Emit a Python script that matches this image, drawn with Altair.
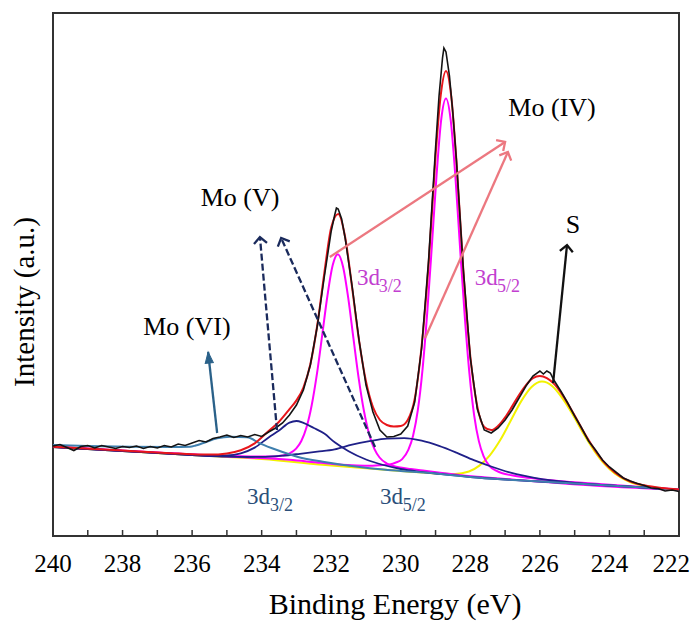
import altair as alt
import pandas as pd

FONT = "Liberation Serif, Times New Roman, DejaVu Serif, serif"
W, H = 626, 523

# ---------------- data: (binding energy eV, intensity a.u.) ----------------
raw = [(240.0, 90), (239.8, 91.5), (239.6, 88.5), (239.4, 85.5), (239.2, 89.5), (239.0, 90.5),
       (238.8, 88), (238.6, 90.5), (238.4, 89), (238.2, 87.5), (238.0, 89.5), (237.8, 88.5),
       (237.6, 90), (237.4, 87.5), (237.2, 89.5), (237.0, 88), (236.8, 90.5), (236.6, 89),
       (236.4, 92), (236.2, 90.5), (236.0, 93), (235.8, 95.5), (235.6, 94), (235.4, 97.5),
       (235.2, 99), (235.0, 101), (234.8, 98.5), (234.6, 100.5), (234.4, 99), (234.2, 101.5),
       (234.0, 99.5), (233.8, 104), (233.6, 108), (233.4, 113), (233.2, 121), (233.0, 131),
       (232.8, 146), (232.6, 171), (232.4, 210), (232.2, 259), (232.0, 305), (231.9, 321),
       (231.85, 328), (231.8, 327), (231.7, 317), (231.6, 298), (231.4, 250), (231.2, 196),
       (231.0, 151), (230.8, 124), (230.6, 106), (230.4, 99), (230.2, 99.5), (230.0, 102),
       (229.8, 110), (229.6, 134), (229.4, 188), (229.2, 276), (229.0, 388), (228.9, 440),
       (228.8, 478), (228.76, 488), (228.7, 484), (228.6, 460), (228.5, 422), (228.4, 376),
       (228.2, 266), (228.0, 178), (227.8, 127), (227.6, 106), (227.4, 103), (227.2, 108),
       (227.0, 116), (226.8, 126), (226.6, 138), (226.4, 150), (226.2, 160), (226.0, 165),
       (225.9, 162), (225.8, 165), (225.7, 163), (225.6, 156), (225.4, 145), (225.2, 133),
       (225.0, 120), (224.8, 108), (224.6, 95), (224.4, 86), (224.2, 76), (224.0, 69),
       (223.8, 63.5), (223.6, 58), (223.4, 55), (223.2, 52.5), (223.0, 50.5), (222.8, 48),
       (222.6, 47.5), (222.4, 45), (222.2, 46), (222.0, 44.5)]

envelope = [(240, 89.3), (238, 85.4), (237, 83.5), (236.5, 82.6), (236, 81.8), (235.5, 81.4),
            (235, 82.6), (234.6, 85.7), (234.2, 92.6), (233.8, 105), (233.5, 114.3), (233.2, 126.8),
            (233.0, 135.6), (232.8, 148.5), (232.6, 171.8), (232.4, 211), (232.2, 262.7),
            (232.0, 308.5), (231.8, 322), (231.6, 299), (231.4, 248.6), (231.2, 195.4),
            (231.0, 154.6), (230.8, 129), (230.6, 116), (230.4, 111), (230.2, 109.5), (230.0, 110),
            (229.8, 116), (229.6, 137), (229.4, 190), (229.2, 272), (229.0, 380), (228.85, 441),
            (228.7, 465), (228.55, 440), (228.4, 375), (228.2, 265), (228.0, 179.5), (227.8, 129.6),
            (227.6, 109.1), (227.4, 105.9), (227.2, 110.2), (227.0, 118.7), (226.8, 129.6),
            (226.6, 141), (226.4, 150.9), (226.2, 157.8), (226.0, 160.1), (225.8, 157.9),
            (225.6, 152.4), (225.4, 143.6), (225.2, 132.6), (225.0, 120.5), (224.8, 107.8),
            (224.6, 95.9), (224.4, 85), (224.2, 75.7), (224.0, 68.1), (223.7, 59.9), (223.4, 54.5),
            (223.0, 50.7), (222.5, 48), (222.0, 46.5)]

mo6 = [(240.0, 91), (239.0, 90), (237.8, 89.3), (236.6, 89), (236.06, 89.3), (235.9, 90.5),
       (235.7, 92.7), (235.28, 97.7), (234.91, 99.3), (234.42, 98.7), (234.05, 92.7), (233.56, 86),
       (232.98, 79.3), (232.24, 74.3), (230.89, 67.7), (230.0, 65), (229.0, 62.5), (228.0, 59),
       (227.0, 56.5), (226.0, 54.5), (225.0, 52.5), (224.0, 50.5), (223.0, 48.5), (222.0, 46)]

mo5_32 = [(240, 89), (238, 85), (236, 81), (235.5, 80.2), (235.0, 80.5), (234.6, 82.7),
          (234.2, 88.4), (233.8, 98.6), (233.5, 105.5), (233.2, 113.4), (233.0, 115), (232.8, 113.1),
          (232.5, 108), (232.2, 102.4), (231.9, 93.7), (231.5, 84.8), (231.0, 76.5), (230.5, 71),
          (230.0, 67), (229.5, 64.4), (229.0, 62.5), (228, 59), (227, 56.5), (226, 54.5),
          (225, 52.5), (224, 50.5), (223, 48.5), (222, 46)]

mo5_52 = [(240, 89), (238, 85), (236, 81), (235.0, 79.3), (234.4, 79.0), (233.9, 79.2),
          (233.4, 80.3), (232.9, 82.2), (232.4, 84.3), (231.9, 86.7), (231.4, 91.4), (230.9, 94.8),
          (230.4, 97.3), (229.9, 97.8), (229.4, 95.3), (228.9, 90.2), (228.4, 83.4), (227.9, 75.8),
          (227.4, 69.5), (226.9, 63.9), (226.4, 59.8), (225.9, 56.7), (225.4, 54.5), (224.9, 52.9),
          (224.0, 50.5), (223.0, 48.5), (222.0, 46)]

mo4_32 = [(240, 89.3), (238.81, 86.9), (236.81, 83.1), (235.81, 81.3), (234.81, 79.9),
          (234.31, 79.5), (233.91, 79.4), (233.61, 79.6), (233.41, 80.4), (233.21, 82.3),
          (233.01, 87.3), (232.86, 95.0), (232.71, 108.7), (232.56, 131), (232.41, 162.3),
          (232.26, 200.7), (232.11, 240), (231.96, 270.4), (231.81, 281.8), (231.66, 269.3),
          (231.51, 237.8), (231.36, 197.3), (231.21, 157.7), (231.06, 125.2), (230.91, 101.8),
          (230.76, 87.1), (230.61, 78.5), (230.41, 72.7), (230.21, 70.0), (230.01, 68.4),
          (229.71, 66.9), (229.31, 65.2), (228.81, 63.1), (227.81, 59.2), (226.81, 56.6),
          (224.81, 51.2), (222, 46)]

mo4_52 = [(240, 89.2), (238, 85.3), (236, 81.4), (235.0, 79.4), (233.2, 76.2), (232.3, 73.2),
          (231.4, 70.7), (230.95, 70.2), (230.59, 70.8), (230.32, 71.6), (230.14, 73.5),
          (229.96, 76.9), (229.78, 86.3), (229.645, 100.6), (229.51, 125.8), (229.375, 166.4),
          (229.24, 223.1), (229.105, 290.8), (228.97, 361.4), (228.835, 417.1), (228.7, 437.5),
          (228.565, 416.0), (228.43, 359.5), (228.295, 288.0), (228.16, 219.6), (228.025, 162.1),
          (227.89, 120.7), (227.755, 94.9), (227.62, 79.9), (227.44, 69.6), (227.26, 65.4),
          (227.08, 62.7), (226.81, 60.7), (226.45, 58.7), (226.0, 56.8), (225.1, 54.0),
          (224.2, 51.7), (222.4, 47.4), (222.0, 46.4)]

s2s = [(240, 89), (238, 85), (236, 81), (234, 77), (232, 70.5), (230, 65), (228.94, 62.6),
       (228.44, 62.1), (228.04, 64.5), (227.74, 70.4), (227.44, 80.6), (227.14, 95.9),
       (226.84, 115.2), (226.54, 134.6), (226.24, 149), (225.94, 154.4), (225.64, 149.8),
       (225.34, 137.2), (225.04, 120.6), (224.74, 102), (224.44, 85.4), (224.14, 71.8),
       (223.84, 62.2), (223.44, 54.4), (222.94, 49.7), (222.44, 47.4), (222.0, 46)]

x_ticks = [239, 238, 237, 236, 235, 234, 233, 232, 231, 230, 229, 228, 227, 226, 225, 224, 223]
x_labels = [240, 238, 236, 234, 232, 230, 228, 226, 224, 222]
x_title = "Binding Energy (eV)"
y_title = "Intensity (a.u.)"

# annotations (energy, intensity)
labels_main = [("Mo (VI)", 236.15, 209), ("Mo (V)", 234.62, 338), ("Mo (IV)", 225.65, 428), ("S", 225.05, 311)]
sub_labels = [  # (main text, sub text, E main, I main, E sub, I sub, color)
    ("3d", "3/2", 231.26, 251, 230.63, 244, "#c23fd0"),
    ("3d", "5/2", 227.87, 251, 227.23, 244, "#c23fd0"),
    ("3d", "3/2", 234.42, 32, 233.76, 25, "#2b4f7a"),
    ("3d", "5/2", 230.60, 32, 229.94, 25, "#2b4f7a"),
]
arrows = [  # (E start, I start, E end, I end, color, dashed, head angle, head kind)
    (235.28, 103, 235.54, 184, "#2a6189", False, 354, "tri"),
    (233.56, 106, 234.05, 299, "#1a2a5c", True, 355, "chev"),
    (230.74, 89, 233.44, 298, "#1a2a5c", True, 336, "chev"),
    (232.04, 279, 227.00, 394, "#ec7880", False, 57, "chev"),
    (229.30, 198, 226.92, 384, "#ec7880", False, 24, "chev"),
    (225.62, 153, 225.22, 291, "#111111", False, 6, "chev"),
]

# ---------------- chart ----------------
xs = alt.Scale(domain=[222, 240], reverse=True, nice=False, zero=False)
ys = alt.Scale(domain=[0, H], nice=False, zero=False)


def X(field="E"):
    return alt.X(f"{field}:Q", scale=xs, axis=None)


def Y(field="I"):
    return alt.Y(f"{field}:Q", scale=ys, axis=None)


def curve(points, color, width, interp="monotone"):
    df = pd.DataFrame(points, columns=["E", "I"])
    df["o"] = range(len(df))
    return alt.Chart(df).mark_line(color=color, strokeWidth=width, interpolate=interp).encode(
        x=X(), y=Y(), order="o:Q")


layers = [
    curve(s2s, "#f2f200", 2.0),
    curve(mo4_32, "#ff00ff", 2.0),
    curve(mo4_52, "#ff00ff", 2.0),
    curve(mo5_32, "#1f2088", 1.8),
    curve(mo5_52, "#1f2088", 1.8),
    curve(mo6, "#3f7fae", 2.0),
    curve(envelope, "#e8161b", 2.0),
    curve(raw, "#141414", 1.6, "linear"),
]

# inward ticks on the bottom axis
tick_df = pd.DataFrame({"E": x_ticks})
layers.append(alt.Chart(tick_df).mark_rule(color="#333333", strokeWidth=1.5).encode(
    x=X(), y=alt.value(H), y2=alt.value(H - 6)))

# tick labels (drawn as text so that the serif font is used)
lab_df = pd.DataFrame({"E": x_labels[:-1], "t": [str(v) for v in x_labels[:-1]]})
layers.append(alt.Chart(lab_df).mark_text(font=FONT, fontSize=25, color="black", align="center",
                                          baseline="middle").encode(
    x=X(), y=alt.value(H + 28), text="t:N"))
last_df = pd.DataFrame({"E": x_labels[-1:], "t": [str(v) for v in x_labels[-1:]]})
layers.append(alt.Chart(last_df).mark_text(font=FONT, fontSize=25, color="black", align="right",
                                           baseline="middle", dx=11).encode(
    x=X(), y=alt.value(H + 28), text="t:N"))

# axis titles
layers.append(alt.Chart(pd.DataFrame({"t": [x_title]})).mark_text(
    font=FONT, fontSize=30, color="black", align="center", baseline="alphabetic").encode(
    x=alt.value(342), y=alt.value(H + 78), text="t:N"))
layers.append(alt.Chart(pd.DataFrame({"t": [y_title]})).mark_text(
    font=FONT, fontSize=29, color="black", align="center", baseline="middle", angle=270).encode(
    x=alt.value(-28), y=alt.value(289), text="t:N"))

# arrows
CHEV = "M-1,1L0,0L1,1"
TRI = "M0,0L0.55,1.5L-0.55,1.5Z"
for e0, i0, e1, i1, col, dashed, ang, kind in arrows:
    df = pd.DataFrame({"E": [e0, e1], "I": [i0, i1], "o": [0, 1]})
    kw = dict(color=col, strokeWidth=2.3)
    if dashed:
        kw["strokeDash"] = [7, 3]
    layers.append(alt.Chart(df).mark_line(**kw).encode(x=X(), y=Y(), order="o:Q"))
    head = pd.DataFrame({"E": [e1], "I": [i1]})
    if kind == "tri":
        pm = alt.Chart(head).mark_point(shape=TRI, filled=True, fill=col, stroke=col, strokeWidth=1,
                                        size=220, angle=ang, opacity=1)
    else:
        pm = alt.Chart(head).mark_point(shape=CHEV, filled=False, stroke=col, strokeWidth=2.3,
                                        size=170, angle=ang, opacity=1)
    layers.append(pm.encode(x=X(), y=Y()))

# text labels
ann_df = pd.DataFrame(labels_main, columns=["t", "E", "I"])
layers.append(alt.Chart(ann_df).mark_text(font=FONT, fontSize=26, color="black", align="center",
                                          baseline="middle").encode(x=X(), y=Y(), text="t:N"))
for main, sub, em, im, es, is_, col in sub_labels:
    d1 = pd.DataFrame({"E": [em], "I": [im], "t": [main]})
    d2 = pd.DataFrame({"E": [es], "I": [is_], "t": [sub]})
    layers.append(alt.Chart(d1).mark_text(font=FONT, fontSize=23, color=col, align="left",
                                          baseline="alphabetic").encode(x=X(), y=Y(), text="t:N"))
    layers.append(alt.Chart(d2).mark_text(font=FONT, fontSize=18, color=col, align="left",
                                          baseline="alphabetic").encode(x=X(), y=Y(), text="t:N"))

chart = alt.layer(*layers).properties(
    width=W, height=H,
    autosize=alt.AutoSizeParams(type="none"),
    padding={"left": 45, "top": 5, "right": 12, "bottom": 88},
    background="white",
).configure_view(stroke="#333333", strokeWidth=2)

chart.save("out.html", embed_options={"renderer": "svg", "actions": False})
